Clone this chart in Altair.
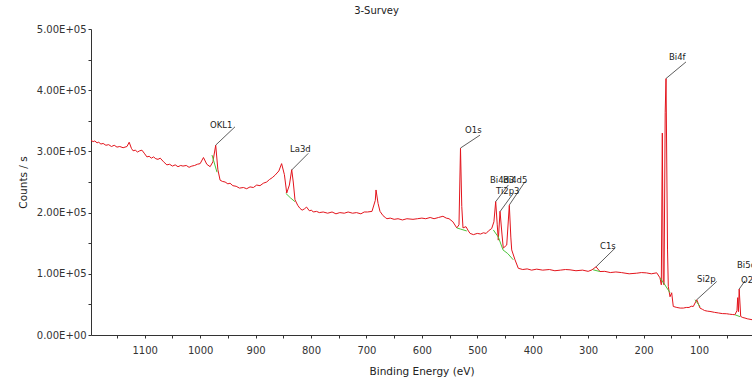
import altair as alt
import pandas as pd

# ---- spectrum (binding energy eV, counts/s in thousands) ----
be = [1196.9, 1193, 1190, 1186, 1183, 1179, 1175, 1170, 1165, 1160, 1155, 1150, 1145, 1139,
      1132, 1128, 1124, 1121, 1117, 1113, 1109, 1105, 1100, 1096, 1092, 1088, 1084, 1080, 1076,
      1072, 1066, 1060, 1055, 1050, 1045, 1040, 1035, 1031, 1025, 1020, 1015, 1010, 1005, 1000,
      994, 988, 982, 977, 971.9, 968, 964, 960, 955, 950, 946, 941, 935, 929, 922, 916, 910,
      904, 898, 892, 886, 880, 875, 870, 865, 858, 853, 848, 843.8, 839, 834.8, 832, 828.9, 824,
      820, 816, 812, 808, 803, 799, 796, 790, 785, 778, 770, 762, 755, 748, 740, 733, 725, 718,
      710, 704, 698, 690, 684, 682.7, 679, 675.5, 670, 666, 663, 657, 650, 643, 635, 627, 616,
      608, 600, 593, 585, 578, 570, 562, 556, 551, 544, 537, 533, 530.3, 528, 525.8, 520.4, 516,
      513, 507, 500, 494, 489, 484, 480, 474, 470, 466.8, 464, 462.1, 459, 455.5, 453.1, 446.9,
      442.2, 439.5, 437.9, 432, 426, 418, 410, 402, 392.8, 382, 370, 360, 350, 341, 332.7, 322,
      310, 300, 293, 285.8, 278.6, 270, 260, 250, 240, 226, 212.4, 204, 195, 186, 176.3, 170.4,
      168, 166.2, 164.5, 163.1, 161, 159.5, 156.8, 155.4, 152.3, 149.3, 146.4, 140, 134, 128.3,
      123, 118, 114, 110.3, 104.1, 98.2, 94, 90, 85, 80.2, 72, 65, 58, 50, 45, 40, 35.1, 31.5,
      30.2, 28.9, 27.5, 24.8, 21, 17, 13, 10, 4.4]
cps_k = [318, 316, 317, 314, 315, 312, 313, 310, 311, 308, 310, 307, 308, 306,
         308, 315, 305, 301, 302, 299, 301, 302, 296, 291, 292, 289, 291, 288, 287,
         289, 283, 278, 279, 276, 278, 275, 277, 276, 277, 274, 276, 277, 279, 280,
         290, 279, 275, 283, 310, 270, 253, 251, 250, 247, 248, 244, 243, 240, 241, 239, 242,
         241, 245, 244, 248, 250, 254, 257, 261, 268, 280, 262, 232, 245, 270, 250, 221, 212,
         207, 204, 206, 209, 203, 204, 201, 202, 200, 201, 199, 201, 198, 200, 199, 201, 199, 200,
         198, 201, 201, 202, 220, 237, 215, 202, 195, 192, 190, 191, 189, 190, 188, 190, 189,
         190, 191, 190, 192, 190, 192, 194, 191, 190, 185, 175, 180, 305, 210, 175, 177, 170,
         166, 164, 166, 165, 167, 166, 170, 174, 185, 218, 180, 155, 202, 165, 142, 147,
         212, 160, 139, 123, 109, 107, 108, 106, 107.6, 106, 107, 105, 106, 107, 106.5, 105,
         106, 104, 106.5, 111.4, 103.7, 104, 102, 103, 102, 100, 101, 102, 101.5, 100, 101.6, 93.4,
         82, 330, 85, 82, 364, 419, 139, 79, 62.5, 69, 46.6, 45, 44, 44,
         45, 45, 47, 46.6, 57.6, 44, 42, 40, 39, 38.5, 37, 36, 35, 34.7, 34, 33.5, 33.1, 40,
         61, 38, 75, 30.3, 28.5, 27.7, 26.5, 26, 25]

# ---- background (green) segments ----
bg_seg = ["OKL1", "OKL1", "La3d", "La3d", "La3d", "O1s", "O1s", "O1s",
          "Bi4d", "Bi4d", "Bi4d", "Bi4d", "Bi4d", "C1s", "C1s",
          "Bi4f", "Bi4f", "Bi4f", "Si2p", "Si2p", "Bi5d", "Bi5d"]
bg_be = [978.6, 969.6, 845.6, 837, 828.9, 537, 530, 519,
         471.1, 462, 453.6, 445, 435, 291, 278.6,
         170.4, 163, 152.3, 107.2, 98.2, 35, 26]
bg_k = [294, 266, 231.6, 224, 217.9, 175, 173, 170,
        171.7, 160, 139, 133, 122.8, 106.5, 103.7,
        93.4, 84, 69, 57.6, 46.6, 33, 30]

# ---- peak labels ----
lab_text = ["OKL1", "La3d", "O1s", "Bi4d3", "Bi4d5", "Ti2p3", "C1s", "Bi4f", "Si2p", "Bi5d", "O2s"]
lab_be = [982.2, 837.9, 522.1, 477, 453.6, 466.2, 278.6, 154.1, 103.6, 31.4, 24.2]
lab_k = [338, 298.9, 329.9, 248.4, 248.4, 230.4, 140.7, 449, 86.9, 109.8, 85.3]
# leader lines: from peak top to label
ld_be1 = [971.9, 834.8, 530.3, 466.8, 442.2, 459, 285.8, 159.5, 104.1, 27.5]
ld_k1 = [310.3, 269.6, 305.5, 217.9, 212.5, 201.6, 111.4, 419.1, 57.6, 75]
ld_be2 = [937.1, 804.9, 495.1, 444, 413.9, 435, 251.5, 123.5, 68.1, 17]
ld_k2 = [340.2, 296.8, 326.6, 245.1, 250.5, 231.6, 141.9, 446.2, 87.4, 88.6]

# ---- axis ticks ----
x_ticks = list(range(50, 1200, 50))
y_ticks = list(range(0, 500001, 50000))

spec = pd.DataFrame({"be": be, "cps": [v * 1000 for v in cps_k], "idx": range(len(be))})
bg = pd.DataFrame({"be": bg_be, "cps": [v * 1000 for v in bg_k], "seg": bg_seg, "idx": range(len(bg_be))})
labels = pd.DataFrame({"be": lab_be, "cps": [v * 1000 for v in lab_k], "label": lab_text})
leaders = pd.DataFrame({"x1": ld_be1, "y1": [v * 1000 for v in ld_k1],
                        "x2": ld_be2, "y2": [v * 1000 for v in ld_k2]})

xscale = alt.Scale(domain=[4.4, 1196.9], reverse=True, nice=False, zero=False)
yscale = alt.Scale(domain=[0, 500000], nice=False)

xaxis = alt.Axis(
    title="Binding Energy (eV)",
    values=x_ticks,
    labelExpr="floor(datum.value / 100) * 100 == datum.value ? format(datum.value, '.0f') : ''",
    labelOverlap=False, labelFlush=False,
    grid=False, tickSize=3, labelPadding=7, titlePadding=11,
)
yaxis = alt.Axis(
    title="Counts / s",
    values=y_ticks,
    labelExpr="datum.value % 100000 == 0 ? (datum.value == 0 ? '0.00E+00' : format(datum.value / 100000, '.2f') + 'E+05') : ''",
    labelOverlap=False,
    grid=False, tickSize=3, labelPadding=2, titlePadding=8,
)

line = alt.Chart(spec).mark_line(color="#e3141c", strokeWidth=1).encode(
    x=alt.X("be:Q", scale=xscale, axis=xaxis),
    y=alt.Y("cps:Q", scale=yscale, axis=yaxis),
    order="idx:Q",
)
green = alt.Chart(bg).mark_line(color="#4cc43c", strokeWidth=1).encode(
    x=alt.X("be:Q", scale=xscale, axis=xaxis),
    y=alt.Y("cps:Q", scale=yscale, axis=yaxis),
    detail="seg:N",
    order="idx:Q",
)
rules = alt.Chart(leaders).mark_rule(color="#333333", strokeWidth=0.8).encode(
    x=alt.X("x1:Q", scale=xscale, axis=xaxis), y=alt.Y("y1:Q", scale=yscale, axis=yaxis),
    x2="x2:Q", y2="y2:Q",
)
texts = alt.Chart(labels).mark_text(
    align="left", baseline="alphabetic", font="DejaVu Sans", fontSize=8.5, color="#222222"
).encode(
    x=alt.X("be:Q", scale=xscale, axis=xaxis), y=alt.Y("cps:Q", scale=yscale, axis=yaxis),
    text="label:N",
)

chart = alt.layer(line, green, rules, texts).properties(
    width=661, height=306,
    title=alt.TitleParams("3-Survey", fontSize=10, fontWeight="normal", font="DejaVu Sans",
                          color="#222222", anchor="middle", dx=-45, offset=0, baseline="alphabetic"),
    autosize=alt.AutoSizeParams(type="none"),
    padding={"left": 91, "top": 29, "right": 0, "bottom": 52},
    background="white",
).configure_view(stroke=None).configure_axis(
    domainColor="#333333", tickColor="#333333", labelColor="#333333", titleColor="#222222",
    labelFont="DejaVu Sans", labelFontSize=10, titleFont="DejaVu Sans", titleFontSize=10.5,
    titleFontWeight="normal", labelOverlap=False,
)

chart.save("out.html", embed_options={"renderer": "svg", "actions": False})
